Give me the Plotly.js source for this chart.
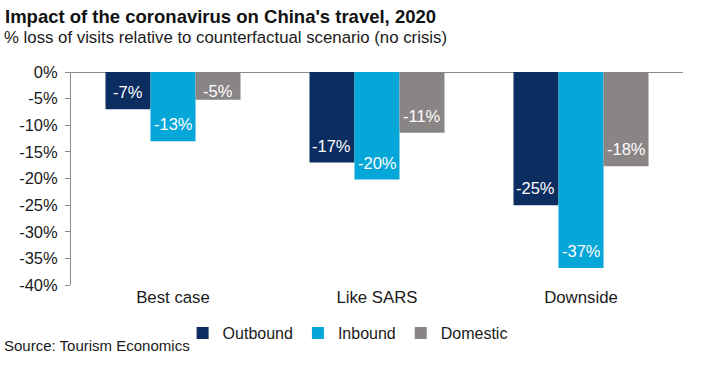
<!DOCTYPE html>
<html>
<head>
<meta charset="utf-8">
<script src="https://cdn.plot.ly/plotly-3.0.1.min.js"></script>
<style>html,body{margin:0;padding:0;background:#fff;}#chart{width:711px;height:366px;}</style>
</head>
<body>
<div id="chart"></div>
<script>
const categories = ["Best case", "Like SARS", "Downside"];
const seriesNames = ["Outbound", "Inbound", "Domestic"];
const outbound = [-7, -17, -25];
const inbound = [-13, -20.2, -36.8];
const domestic = [-5.2, -11.4, -17.7];
const outboundLabels = ["-7%", "-17%", "-25%"];
const inboundLabels = ["-13%", "-20%", "-37%"];
const domesticLabels = ["-5%", "-11%", "-18%"];
const yTickVals = [0, -5, -10, -15, -20, -25, -30, -35, -40];
const yTickText = ["0%", "-5%", "-10%", "-15%", "-20%", "-25%", "-30%", "-35%", "-40%"];

const W = 711, H = 366;
const m = {l: 71, r: 28, t: 72, b: 81};
const ph = H - m.t - m.b;
const pw = W - m.l - m.r;
const yMin = -40, yMax = 0;
const bargap = 0.338;
const barPxW = pw / categories.length * (1 - bargap) / 3;

const colors = ["#0c2d5f", "#05a6d8", "#898585"];
const allVals = [outbound, inbound, domestic];
const allLabels = [outboundLabels, inboundLabels, domesticLabels];

const data = allVals.map((vals, i) => ({
  type: "bar", name: seriesNames[i], x: categories, y: vals,
  marker: {color: colors[i], line: {width: 0}},
  hoverinfo: "skip"
}));

// value labels, placed near the inner end of each bar
const annotations = [];
allVals.forEach((vals, i) => {
  vals.forEach((v, j) => {
    const barPx = Math.abs(v) / (yMax - yMin) * ph;
    annotations.push({
      xref: "x", yref: "y", x: categories[j], y: v,
      xshift: (i - 1) * barPxW, yshift: Math.min(6, barPx - 30),
      xanchor: "center", yanchor: "bottom", showarrow: false,
      text: allLabels[i][j],
      font: {family: "Arial, Liberation Sans, sans-serif", size: 16.5, color: "#ffffff"}
    });
  });
});
annotations.push(
  {text: "% loss of visits relative to counterfactual scenario (no crisis)", xref: "paper", yref: "paper",
   x: -(m.l - 2) / pw, xanchor: "left", y: 1 + (m.t - 37) / ph, yanchor: "middle", showarrow: false,
   font: {size: 16.8, color: "#1a1a1a"}},
  {text: "Source: Tourism Economics", xref: "paper", yref: "paper",
   x: -(m.l - 2) / pw, xanchor: "left", y: -(345 - 285) / ph, yanchor: "middle", showarrow: false,
   font: {size: 15, color: "#1a1a1a"}}
);

const layout = {
  width: W, height: H,
  margin: m,
  paper_bgcolor: "#ffffff", plot_bgcolor: "#ffffff",
  font: {family: "Arial, Liberation Sans, sans-serif", color: "#1a1a1a", size: 16},
  barmode: "group", bargap: bargap, bargroupgap: 0,
  showlegend: true,
  legend: {orientation: "h", x: 0.452, xanchor: "center", y: -(333 - 285) / ph, yanchor: "middle",
           font: {size: 16, color: "#1a1a1a"}, itemwidth: 30, traceorder: "normal"},
  title: {text: "<b>Impact of the coronavirus on China's travel, 2020</b>", xref: "container", yref: "container",
          x: 5 / W, xanchor: "left", y: 1 - 17 / H, yanchor: "middle",
          font: {size: 18.5, color: "#111111"}},
  xaxis: {type: "category", showline: false, ticks: "", showgrid: false, zeroline: false,
          tickfont: {size: 16.8, color: "#1a1a1a"}, fixedrange: true},
  yaxis: {range: [yMin, yMax], tickvals: yTickVals, ticktext: yTickText, showgrid: false,
          showline: true, linecolor: "#8c8c8c", linewidth: 1,
          ticks: "outside", ticklen: 5, tickcolor: "#8c8c8c", tickwidth: 1,
          zeroline: true, zerolinecolor: "#8c8c8c", zerolinewidth: 1,
          tickfont: {size: 16.5, color: "#1a1a1a"}, ticklabelstandoff: 4, fixedrange: true},
  annotations: annotations
};
Plotly.newPlot("chart", data, layout, {displayModeBar: false, staticPlot: true});
</script>
</body>
</html>
